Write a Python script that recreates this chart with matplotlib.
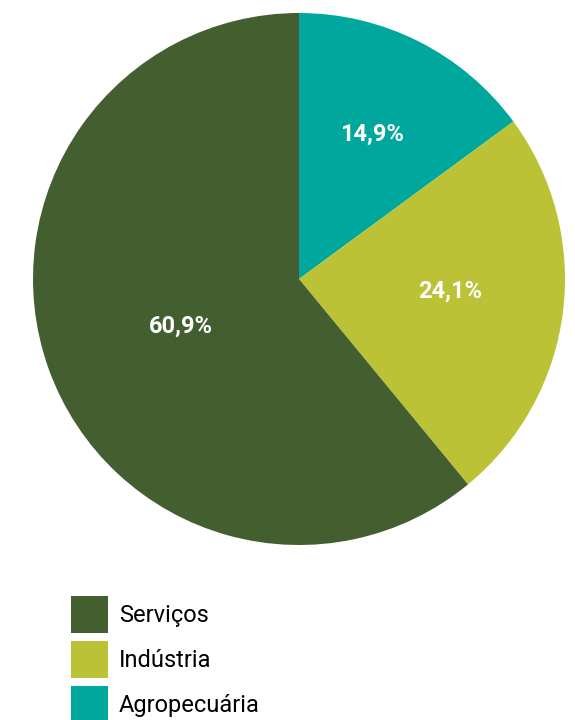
import numpy as np
import matplotlib
matplotlib.use("Agg")
import matplotlib.pyplot as plt
from matplotlib.patches import Patch

categories = ["Agropecuária", "Indústria", "Serviços"]
values = [14.9, 24.1, 60.9]
labels = ["14,9%", "24,1%", "60,9%"]
colors = ["#00A79D", "#BCC235", "#435E2F"]
legend_order = ["Serviços", "Indústria", "Agropecuária"]
label_dist = [0.61, 0.57, 0.48]
label_ang_offset = [0.0, 2.5, 2.0]

plt.rcParams['font.family'] = ['Roboto', 'DejaVu Sans']

fig = plt.figure(figsize=(5.75, 7.2), dpi=100)
ax = fig.add_axes([33/575, 1-545/720, 532/575, 532/720])
wedges, _ = ax.pie(values, colors=colors, startangle=90, counterclock=False,
                   wedgeprops=dict(linewidth=0))
ax.set_xlim(-1, 1)
ax.set_ylim(-1, 1)
ax.set_aspect('equal')
for w, lab, d, off in zip(wedges, labels, label_dist, label_ang_offset):
    ang = np.deg2rad((w.theta1 + w.theta2) / 2 + off)
    ax.text(d*np.cos(ang), d*np.sin(ang), lab, ha='center', va='center',
            color='white', fontsize=17, fontweight='bold')

cmap = dict(zip(categories, colors))
handles = [Patch(facecolor=cmap[c], edgecolor='none', label=c) for c in legend_order]
fig.legend(handles=handles, loc='upper left', bbox_to_anchor=(71/575, 1-596/720),
           frameon=False, fontsize=17, handlelength=1.567, handleheight=2.034,
           handletextpad=0.47, labelspacing=0.34, borderpad=0, borderaxespad=0)

fig.savefig("out.png", dpi=100)
